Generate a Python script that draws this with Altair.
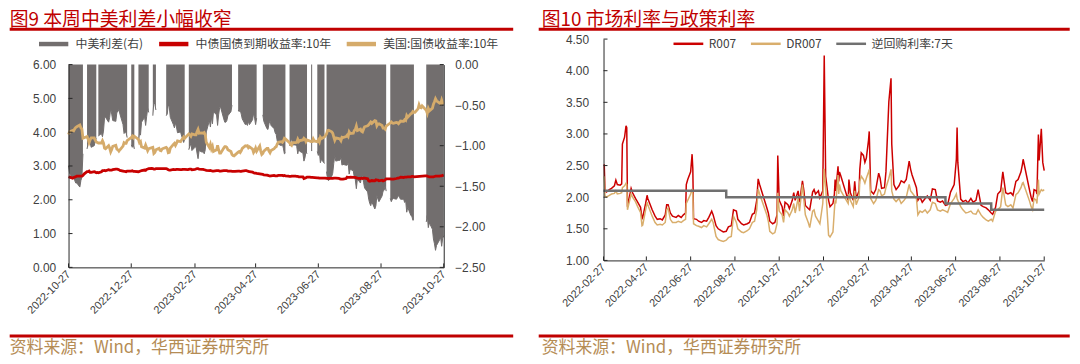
import altair as alt
import pandas as pd

CJK = "Noto Sans CJK SC"
NUM = "Liberation Sans"
AXIS_C = "#262626"
LABEL_C = "#404040"
TITLE_C = "#C00000"
SOURCE_C = "#B58C55"

# ---------------- Figure 9 data ----------------
left_title = "图9 本周中美利差小幅收窄"
right_title = "图10 市场利率与政策利率"
source_text = "资料来源：Wind，华西证券研究所"

left_series = ["中美利差(右)", "中债国债到期收益率:10年", "美国:国债收益率:10年"]
left_colors = ["#726E6E", "#C80000", "#D5AB6B"]

left_dates = [
    "2022-10-27", "2022-10-28", "2022-10-31",
    "2022-11-01", "2022-11-02", "2022-11-03", "2022-11-04", "2022-11-07", "2022-11-08", "2022-11-09", "2022-11-10",
    "2022-11-11", "2022-11-14", "2022-11-15", "2022-11-16", "2022-11-17", "2022-11-18", "2022-11-21", "2022-11-22",
    "2022-11-23", "2022-11-24", "2022-11-25", "2022-11-28", "2022-11-29", "2022-11-30",
    "2022-12-01", "2022-12-02", "2022-12-05", "2022-12-06", "2022-12-07", "2022-12-08", "2022-12-09", "2022-12-12",
    "2022-12-13", "2022-12-14", "2022-12-15", "2022-12-16", "2022-12-19", "2022-12-20", "2022-12-21", "2022-12-22",
    "2022-12-23", "2022-12-26", "2022-12-27", "2022-12-28", "2022-12-29", "2022-12-30",
    "2023-01-02", "2023-01-03", "2023-01-04", "2023-01-05", "2023-01-06", "2023-01-09", "2023-01-10", "2023-01-11",
    "2023-01-12", "2023-01-13", "2023-01-16", "2023-01-17", "2023-01-18", "2023-01-19", "2023-01-20", "2023-01-23",
    "2023-01-24", "2023-01-25", "2023-01-26", "2023-01-27", "2023-01-30", "2023-01-31",
    "2023-02-01", "2023-02-02", "2023-02-03", "2023-02-06", "2023-02-07", "2023-02-08", "2023-02-09", "2023-02-10",
    "2023-02-13", "2023-02-14", "2023-02-15", "2023-02-16", "2023-02-17", "2023-02-20", "2023-02-21", "2023-02-22",
    "2023-02-23", "2023-02-24", "2023-02-27", "2023-02-28",
    "2023-03-01", "2023-03-02", "2023-03-03", "2023-03-06", "2023-03-07", "2023-03-08", "2023-03-09", "2023-03-10",
    "2023-03-13", "2023-03-14", "2023-03-15", "2023-03-16", "2023-03-17", "2023-03-20", "2023-03-21", "2023-03-22",
    "2023-03-23", "2023-03-24", "2023-03-27", "2023-03-28", "2023-03-29", "2023-03-30", "2023-03-31",
    "2023-04-03", "2023-04-04", "2023-04-05", "2023-04-06", "2023-04-07", "2023-04-10", "2023-04-11", "2023-04-12",
    "2023-04-13", "2023-04-14", "2023-04-17", "2023-04-18", "2023-04-19", "2023-04-20", "2023-04-21", "2023-04-24",
    "2023-04-25", "2023-04-26", "2023-04-27", "2023-04-28",
    "2023-05-01", "2023-05-02", "2023-05-03", "2023-05-04", "2023-05-05", "2023-05-08", "2023-05-09", "2023-05-10",
    "2023-05-11", "2023-05-12", "2023-05-15", "2023-05-16", "2023-05-17", "2023-05-18", "2023-05-19", "2023-05-22",
    "2023-05-23", "2023-05-24", "2023-05-25", "2023-05-26", "2023-05-29", "2023-05-30", "2023-05-31",
    "2023-06-01", "2023-06-02", "2023-06-05", "2023-06-06", "2023-06-07", "2023-06-08", "2023-06-09", "2023-06-12",
    "2023-06-13", "2023-06-14", "2023-06-15", "2023-06-16", "2023-06-19", "2023-06-20", "2023-06-21", "2023-06-22",
    "2023-06-23", "2023-06-26", "2023-06-27", "2023-06-28", "2023-06-29", "2023-06-30",
    "2023-07-03", "2023-07-04", "2023-07-05", "2023-07-06", "2023-07-07", "2023-07-10", "2023-07-11", "2023-07-12",
    "2023-07-13", "2023-07-14", "2023-07-17", "2023-07-18", "2023-07-19", "2023-07-20", "2023-07-21", "2023-07-24",
    "2023-07-25", "2023-07-26", "2023-07-27", "2023-07-28", "2023-07-31",
    "2023-08-01", "2023-08-02", "2023-08-03", "2023-08-04", "2023-08-07", "2023-08-08", "2023-08-09", "2023-08-10",
    "2023-08-11", "2023-08-14", "2023-08-15", "2023-08-16", "2023-08-17", "2023-08-18", "2023-08-21", "2023-08-22",
    "2023-08-23", "2023-08-24", "2023-08-25", "2023-08-28", "2023-08-29", "2023-08-30", "2023-08-31",
    "2023-09-01", "2023-09-04", "2023-09-05", "2023-09-06", "2023-09-07", "2023-09-08", "2023-09-11", "2023-09-12",
    "2023-09-13", "2023-09-14", "2023-09-15", "2023-09-18", "2023-09-19", "2023-09-20", "2023-09-21", "2023-09-22",
    "2023-09-25", "2023-09-26", "2023-09-27", "2023-09-28", "2023-09-29",
    "2023-10-02", "2023-10-03", "2023-10-04", "2023-10-05", "2023-10-06", "2023-10-09", "2023-10-10", "2023-10-11",
    "2023-10-12", "2023-10-13", "2023-10-16", "2023-10-17", "2023-10-18", "2023-10-19", "2023-10-20", "2023-10-23",
    "2023-10-24", "2023-10-25", "2023-10-26", "2023-10-27",
]

cn_10y = [
    2.68, 2.67, 2.64,
    2.66, 2.67, 2.68, 2.70, 2.70, 2.70, 2.70, 2.72, 2.76, 2.83, 2.83, 2.85, 2.81, 2.81, 2.83, 2.82, 2.80, 2.81, 2.80,
    2.83, 2.86, 2.86,
    2.87, 2.86, 2.89, 2.88, 2.88, 2.88, 2.89, 2.91, 2.91, 2.90, 2.89, 2.87, 2.85, 2.84, 2.84, 2.83, 2.85, 2.85, 2.85,
    2.86, 2.84, 2.84,
    None, 2.83, 2.84, 2.85, 2.86, 2.88, 2.87, 2.90, 2.91, 2.92, 2.93, 2.92, 2.91, 2.91, 2.92, None, None, None, None,
    None, 2.92, 2.91,
    2.89, 2.88, 2.88, 2.90, 2.89, 2.89, 2.90, 2.90, 2.89, 2.89, 2.90, 2.90, 2.90, 2.89, 2.90, 2.91, 2.91, 2.89, 2.90,
    2.91,
    2.92, 2.92, 2.91, 2.90, 2.90, 2.89, 2.88, 2.87, 2.86, 2.87, 2.86, 2.85, 2.85, 2.86, 2.86, 2.86, 2.85, 2.85, 2.86,
    2.86, 2.86, 2.86, 2.85,
    2.85, 2.84, None, 2.84, 2.84, 2.85, 2.85, 2.84, 2.84, 2.85, 2.86, 2.86, 2.85, 2.84, 2.83, 2.82, 2.80, 2.79, 2.79,
    2.78,
    None, None, None, 2.75, 2.74, 2.73, 2.72, 2.71, 2.70, 2.71, 2.72, 2.71, 2.71, 2.71, 2.72, 2.72, 2.72, 2.71, 2.72,
    2.71, 2.70, 2.69, 2.69,
    2.70, 2.70, 2.70, 2.69, 2.69, 2.68, 2.68, 2.68, 2.63, 2.64, 2.65, 2.67, 2.67, 2.66, 2.66, None, None, 2.65, 2.65,
    2.64, 2.64, 2.64,
    2.64, 2.64, 2.63, 2.63, 2.63, 2.63, 2.63, 2.64, 2.64, 2.64, 2.63, 2.62, 2.61, 2.61, 2.61, 2.63, 2.67, 2.66, 2.66,
    2.67, 2.66,
    2.66, 2.66, 2.65, 2.64, 2.63, 2.64, 2.63, 2.64, 2.64, 2.62, 2.56, 2.55, 2.56, 2.57, 2.56, 2.59, 2.58, 2.58, 2.56,
    2.58, 2.56, 2.57, 2.59,
    2.62, 2.62, 2.62, 2.61, 2.61, 2.61, 2.63, 2.64, 2.64, 2.65, 2.67, 2.66, 2.67, 2.67, 2.67, 2.68, 2.68, 2.69, 2.69,
    2.68, None,
    None, None, None, None, None, 2.71, 2.71, 2.70, 2.69, 2.68, 2.68, 2.68, 2.69, 2.70, 2.70, 2.70, 2.71, 2.71, 2.72,
    2.73,
]

us_10y = [
    3.93, 4.01, 4.05,
    4.04, 4.10, 4.14, 4.16, 4.21, 4.13, 4.09, 3.82, None, 3.87, 3.80, 3.69, 3.77, 3.83, 3.83, 3.76, 3.71, None, 3.68,
    3.68, 3.75, 3.68,
    3.53, 3.51, 3.60, 3.53, 3.42, 3.49, 3.58, 3.61, 3.50, 3.48, 3.44, 3.48, 3.59, 3.69, 3.67, 3.67, 3.75, None, 3.84,
    3.88, 3.83, 3.88,
    None, 3.79, 3.69, 3.72, 3.57, 3.53, 3.62, 3.54, 3.45, 3.51, None, 3.55, 3.37, 3.40, 3.48, 3.52, 3.46, 3.45, 3.50,
    3.52, 3.55, 3.52,
    3.39, 3.40, 3.53, 3.64, 3.67, 3.61, 3.67, 3.74, 3.72, 3.77, 3.81, 3.86, 3.82, None, 3.95, 3.92, 3.88, 3.95, 3.92,
    3.92,
    4.01, 4.08, 3.97, 3.98, 3.97, 3.99, 3.93, 3.70, 3.55, 3.64, 3.51, 3.58, 3.43, 3.48, 3.61, 3.48, 3.38, 3.38, 3.53,
    3.57, 3.57, 3.55, 3.48,
    3.43, 3.34, 3.31, 3.30, None, 3.41, 3.43, 3.40, 3.45, 3.52, 3.60, 3.59, 3.60, 3.54, 3.57, 3.50, 3.40, 3.45, 3.53,
    3.44,
    3.59, 3.44, 3.34, 3.37, 3.44, 3.52, 3.52, 3.44, 3.39, 3.46, 3.51, 3.55, 3.57, 3.65, 3.70, 3.72, 3.70, 3.74, 3.82,
    3.80, None, 3.69, 3.64,
    3.61, 3.69, 3.69, 3.70, 3.79, 3.72, 3.75, 3.77, 3.82, 3.79, 3.72, 3.77, None, 3.72, 3.72, 3.80, 3.74, 3.72, 3.77,
    3.71, 3.85, 3.81,
    3.86, None, 3.95, 4.05, 4.06, 4.01, 3.97, 3.86, 3.76, 3.83, 3.81, 3.80, 3.75, 3.85, 3.84, 3.87, 3.91, 3.87, 4.01,
    3.96, 3.97,
    4.05, 4.08, 4.18, 4.05, 4.09, 4.03, 4.01, 4.09, 4.16, 4.19, 4.22, 4.26, 4.30, 4.26, 4.34, 4.33, 4.19, 4.24, 4.25,
    4.20, 4.12, 4.12, 4.09,
    4.18, None, 4.27, 4.30, 4.27, 4.26, 4.29, 4.28, 4.25, 4.29, 4.33, 4.32, 4.37, 4.35, 4.49, 4.44, 4.54, 4.56, 4.61,
    4.59, 4.59,
    4.69, 4.81, 4.73, 4.72, 4.78, None, 4.65, 4.56, 4.70, 4.63, 4.71, 4.83, 4.90, 4.99, 4.93, 4.86, 4.84, 4.95, 4.86,
    4.84,
]

left_ticks = ["2022-10-27", "2022-12-27", "2023-02-27", "2023-04-27", "2023-06-27", "2023-08-27", "2023-10-27"]
left_y_ticks = [0, 1, 2, 3, 4, 5, 6]
spread_ticks = [0, -0.5, -1.0, -1.5, -2.0, -2.5]

# ---------------- Figure 10 data ----------------
right_series = ["R007", "DR007", "逆回购利率:7天"]
right_colors = ["#CC0000", "#D9AE6C", "#707070"]

right_dates = [
    "2022-02-28", "2022-03-01", "2022-03-03", "2022-03-07", "2022-03-10", "2022-03-14", "2022-03-16", "2022-03-18",
    "2022-03-22", "2022-03-24", "2022-03-25", "2022-03-28", "2022-03-30", "2022-03-31",
    "2022-04-01", "2022-04-06", "2022-04-08", "2022-04-12", "2022-04-15", "2022-04-19", "2022-04-21", "2022-04-22",
    "2022-04-26", "2022-04-28", "2022-04-29",
    "2022-05-05", "2022-05-09", "2022-05-12", "2022-05-16", "2022-05-19", "2022-05-23", "2022-05-25", "2022-05-27",
    "2022-05-30",
    "2022-06-02", "2022-06-07", "2022-06-10", "2022-06-14", "2022-06-17", "2022-06-20", "2022-06-21", "2022-06-23",
    "2022-06-27", "2022-06-29", "2022-06-30",
    "2022-07-01", "2022-07-05", "2022-07-08", "2022-07-12", "2022-07-15", "2022-07-19", "2022-07-22", "2022-07-26",
    "2022-07-28",
    "2022-08-01", "2022-08-04", "2022-08-08", "2022-08-11", "2022-08-15", "2022-08-18", "2022-08-22", "2022-08-25",
    "2022-08-29", "2022-08-31",
    "2022-09-05", "2022-09-08", "2022-09-13", "2022-09-16", "2022-09-20", "2022-09-23", "2022-09-26", "2022-09-28",
    "2022-09-30",
    "2022-10-10", "2022-10-12", "2022-10-14", "2022-10-18", "2022-10-21", "2022-10-24", "2022-10-25", "2022-10-27",
    "2022-10-31",
    "2022-11-02", "2022-11-04", "2022-11-08", "2022-11-10", "2022-11-14", "2022-11-16", "2022-11-18", "2022-11-22",
    "2022-11-24", "2022-11-28", "2022-11-30",
    "2022-12-02", "2022-12-06", "2022-12-08", "2022-12-12", "2022-12-14", "2022-12-16", "2022-12-20", "2022-12-22",
    "2022-12-26", "2022-12-28", "2022-12-30",
    "2023-01-03", "2023-01-05", "2023-01-09", "2023-01-11", "2023-01-12", "2023-01-13", "2023-01-16", "2023-01-17",
    "2023-01-18", "2023-01-20", "2023-01-30", "2023-01-31",
    "2023-02-02", "2023-02-06", "2023-02-08", "2023-02-10", "2023-02-14", "2023-02-15", "2023-02-17", "2023-02-20",
    "2023-02-22", "2023-02-24", "2023-02-27", "2023-02-28",
    "2023-03-02", "2023-03-06", "2023-03-09", "2023-03-13", "2023-03-15", "2023-03-17", "2023-03-21", "2023-03-23",
    "2023-03-27", "2023-03-30", "2023-03-31",
    "2023-04-03", "2023-04-06", "2023-04-10", "2023-04-13", "2023-04-17", "2023-04-20", "2023-04-24", "2023-04-26",
    "2023-04-28",
    "2023-05-04", "2023-05-06", "2023-05-09", "2023-05-12", "2023-05-16", "2023-05-19", "2023-05-23", "2023-05-26",
    "2023-05-30",
    "2023-06-02", "2023-06-06", "2023-06-09", "2023-06-13", "2023-06-16", "2023-06-20", "2023-06-25", "2023-06-28",
    "2023-06-29", "2023-06-30",
    "2023-07-04", "2023-07-07", "2023-07-11", "2023-07-14", "2023-07-18", "2023-07-21", "2023-07-25", "2023-07-28",
    "2023-08-01", "2023-08-04", "2023-08-08", "2023-08-11", "2023-08-15", "2023-08-17", "2023-08-21", "2023-08-24",
    "2023-08-28", "2023-08-31",
    "2023-09-04", "2023-09-07", "2023-09-11", "2023-09-14", "2023-09-18", "2023-09-21", "2023-09-25", "2023-09-27",
    "2023-09-28",
    "2023-10-07", "2023-10-09", "2023-10-11", "2023-10-13", "2023-10-16", "2023-10-17", "2023-10-19", "2023-10-20",
    "2023-10-23", "2023-10-25", "2023-10-27",
]

r007 = [
    2.52, 2.10, 2.08, 2.12, 2.14, 2.18, 2.27, 2.20, 2.19, 2.21, 2.84, 2.95, 3.13, 3.10,
    1.85, 2.14, 2.07, 1.98, 1.92, 1.84, 1.66, 1.68, 1.90, 2.03, 1.98,
    1.80, 1.70, 1.65, 1.66, 1.64, 1.72, 1.88, 1.88, 1.75,
    1.70, 1.68, 1.71, 1.68, 1.72, 1.75, 2.20, 2.28, 2.40, 2.68, 2.45,
    1.66, 1.65, 1.62, 1.60, 1.63, 1.62, 1.68, 1.78, 1.72,
    1.55, 1.50, 1.47, 1.45, 1.46, 1.53, 1.55, 1.80, 1.78, 1.65,
    1.58, 1.56, 1.58, 1.60, 1.73, 1.75, 1.95, 2.29, 2.20,
    1.83, 1.75, 1.62, 1.58, 1.60, 1.72, 2.66, 1.95, 1.85,
    1.70, 1.92, 1.88, 1.82, 1.95, 2.07, 1.95, 2.10, 1.92, 2.26, 2.10,
    1.87, 1.82, 1.80, 2.08, 2.12, 2.05, 2.10, 1.99, 2.10, 4.24, 2.33,
    1.95, 1.85, 1.90, 2.05, 2.28, 2.10, 2.49, 2.25, 2.40, 2.33, 1.95, 2.28,
    2.07, 1.95, 2.25, 1.98, 2.10, 2.44, 2.70, 2.66, 2.55, 2.62, 2.90, 3.04,
    2.10, 2.05, 2.12, 2.38, 2.30, 2.14, 2.15, 2.40, 3.51, 3.88, 2.84,
    2.20, 2.12, 2.18, 2.26, 2.23, 2.28, 2.57, 2.44, 2.35,
    2.15, 1.95, 2.00, 1.92, 1.98, 2.02, 1.95, 2.13, 2.12,
    1.94, 1.92, 1.94, 1.87, 1.88, 2.08, 2.20, 2.60, 3.10, 2.55,
    1.97, 1.93, 1.95, 1.91, 1.98, 1.92, 1.95, 2.12,
    1.87, 1.85, 1.83, 1.80, 1.75, 1.73, 1.84, 2.05, 2.10, 2.40,
    2.07, 2.05, 2.07, 2.03, 2.25, 2.28, 2.40, 2.52, 2.60,
    2.10, 2.00, 1.93, 2.12, 2.10, 2.05, 2.99, 2.58, 3.08, 2.55, 2.42,
]

dr007 = [
    2.33, 2.02, 2.00, 2.03, 2.05, 2.06, 2.10, 2.05, 2.06, 2.07, 2.15, 2.18, 2.22, 2.20,
    1.80, 2.05, 2.00, 1.93, 1.85, 1.76, 1.55, 1.56, 1.80, 1.92, 1.88,
    1.70, 1.60, 1.56, 1.57, 1.56, 1.60, 1.80, 1.83, 1.65,
    1.60, 1.60, 1.62, 1.60, 1.63, 1.65, 1.90, 1.95, 2.05, 2.13, 2.05,
    1.58, 1.55, 1.54, 1.52, 1.55, 1.53, 1.58, 1.65, 1.60,
    1.38, 1.33, 1.31, 1.30, 1.32, 1.36, 1.38, 1.70, 1.60, 1.50,
    1.45, 1.44, 1.47, 1.50, 1.60, 1.62, 1.80, 2.13, 2.05,
    1.72, 1.62, 1.46, 1.42, 1.44, 1.58, 2.07, 1.78, 1.72,
    1.60, 1.80, 1.75, 1.70, 1.80, 1.90, 1.75, 1.98, 1.78, 2.20, 1.95,
    1.72, 1.60, 1.52, 1.78, 1.80, 1.70, 1.62, 1.58, 1.90, 2.45, 2.15,
    1.40, 1.37, 1.45, 1.80, 1.95, 1.90, 2.35, 2.05, 2.20, 2.10, 1.90, 2.05,
    1.95, 1.85, 2.10, 1.88, 2.00, 2.25, 2.33, 2.28, 2.22, 2.30, 2.40, 2.44,
    1.98, 1.90, 1.95, 2.12, 2.10, 2.02, 2.05, 2.15, 2.30, 2.44, 2.10,
    1.97, 1.93, 1.98, 1.90, 1.95, 2.00, 2.20, 2.10, 2.07,
    1.98, 1.72, 1.78, 1.76, 1.80, 1.75, 1.80, 1.92, 1.90,
    1.80, 1.78, 1.80, 1.78, 1.76, 1.90, 1.98, 2.05, 1.98, 1.95,
    1.85, 1.80, 1.75, 1.76, 1.78, 1.74, 1.73, 1.80,
    1.72, 1.68, 1.64, 1.62, 1.65, 1.62, 1.78, 1.80, 1.85, 2.15,
    1.88, 1.85, 1.88, 1.83, 2.04, 2.07, 2.15, 2.22, 2.23,
    1.93, 1.85, 1.80, 1.98, 1.95, 1.90, 2.28, 2.05, 2.12, 2.10, 2.12,
]

repo_dates = ["2022-02-27", "2022-08-15", "2023-06-13", "2023-08-15", "2023-10-27"]
repo_rate = [2.10, 2.00, 1.90, 1.80, 1.80]

right_ticks = ["2022-02-27", "2022-04-27", "2022-06-27", "2022-08-27", "2022-10-27", "2022-12-27",
               "2023-02-27", "2023-04-27", "2023-06-27", "2023-08-27", "2023-10-27"]
rate_ticks = [1.0, 1.5, 2.0, 2.5, 3.0, 3.5, 4.0, 4.5]

# ---------------- helpers ----------------
# both panels share the same view top; the left plot rectangle starts lower via its y range
WL, HL = 378, 230
PLOT_TOP_L = 25.7
WR, HR = 444, 223


def ms(s):
    return int(pd.Timestamp(s).value // 1_000_000)


def num_axis(orient, values, pad):
    return alt.Axis(orient=orient, values=values, format=".2f", tickSize=0, labelPadding=pad,
                    domainColor=AXIS_C, domainWidth=1, grid=False, title=None, zindex=1,
                    labelFont=NUM, labelFontSize=12, labelColor=LABEL_C)


def date_axis(ticks):
    return alt.Axis(values=[ms(t) for t in ticks], labelExpr="utcFormat(datum.value, '%Y-%m-%d')",
                    labelAngle=315, labelAlign="right", labelBaseline="middle", labelPadding=5,
                    tickSize=0, labelFlush=False, labelOverlap=False, grid=False, title=None, zindex=1,
                    domainColor=AXIS_C, domainWidth=1, labelFont=NUM, labelFontSize=11, labelColor=LABEL_C)


def decorations(title, x_left, x_text, x_right, y_top, y_rule_top, y_rule_bottom, y_source):
    # invisible spacer fixes the top of the panel so the title glyphs are not clipped
    spacer = alt.Chart(pd.DataFrame({"k": [0]})).mark_rule(strokeWidth=1, opacity=0).encode(
        x=alt.value(x_left), x2=alt.value(x_left + 2), y=alt.value(y_top + 0.5))
    t = alt.Chart(pd.DataFrame({"t": [title]})).mark_text(
        align="left", baseline="top", font=CJK, fontSize=19, color=TITLE_C
    ).encode(text="t:N", x=alt.value(x_text), y=alt.value(y_top + 2))
    r1 = alt.Chart(pd.DataFrame({"k": [0]})).mark_rule(color=TITLE_C, strokeWidth=3).encode(
        x=alt.value(x_left), x2=alt.value(x_right), y=alt.value(y_rule_top))
    r2 = alt.Chart(pd.DataFrame({"k": [0]})).mark_rule(color=TITLE_C, strokeWidth=3).encode(
        x=alt.value(x_left), x2=alt.value(x_right), y=alt.value(y_rule_bottom))
    s = alt.Chart(pd.DataFrame({"t": [source_text]})).mark_text(
        align="left", baseline="middle", font=CJK, fontSize=17, color=SOURCE_C
    ).encode(text="t:N", x=alt.value(x_text), y=alt.value(y_source))
    return [spacer, t, r1, r2, s]


# ---------------- left panel ----------------
dfL = pd.DataFrame({"date": left_dates, "cn": cn_10y, "us": us_10y})
longL = pd.concat([
    pd.DataFrame({"date": left_dates, "value": cn_10y, "series": left_series[1]}),
    pd.DataFrame({"date": left_dates, "value": us_10y, "series": left_series[2]}),
]).dropna(subset=["value"])

xL = alt.X("date:T", scale=alt.Scale(type="utc", domain=[ms(left_ticks[0]), ms(left_ticks[-1])]),
           axis=date_axis(left_ticks))
ySpreadScale = alt.Scale(domain=[-2.5, 0], nice=False, zero=False, range=[HL, PLOT_TOP_L])
yYieldScale = alt.Scale(domain=[0, 6], nice=False, zero=False, range=[HL, PLOT_TOP_L])
colorL = alt.Scale(domain=left_series, range=left_colors)
legendL = alt.Legend(title=None, orient="none", legendX=-32, legendY=-12, direction="horizontal",
                     symbolType="stroke", symbolSize=870, symbolStrokeWidth=4.5, labelFont=CJK,
                     labelFontSize=12, labelColor=LABEL_C, columnPadding=6, labelOffset=5, padding=0)
SPREAD = "isValid(datum.cn) && isValid(datum.us) ? datum.cn - datum.us : null"
right_axis_L = num_axis("right", spread_ticks, 11)

spread_area = alt.Chart(dfL).transform_calculate(spread=SPREAD).mark_area(
    color=left_colors[0], invalid="break-paths-filter-domains"
).encode(x=xL, y=alt.Y("spread:Q", scale=ySpreadScale, axis=right_axis_L), y2=alt.datum(0))

spread_edge = alt.Chart(dfL).transform_calculate(
    spread=SPREAD, series="'" + left_series[0] + "'"
).mark_line(strokeWidth=1, invalid="break-paths-filter-domains").encode(
    x=xL, y=alt.Y("spread:Q", scale=ySpreadScale, axis=right_axis_L),
    color=alt.Color("series:N", scale=colorL, legend=legendL))

yield_lines = alt.Chart(longL).mark_line(strokeWidth=2.8).encode(
    x=xL, y=alt.Y("value:Q", scale=yYieldScale, axis=num_axis("left", left_y_ticks, 13)),
    color=alt.Color("series:N", scale=colorL, legend=legendL))

tick_l = alt.Chart(pd.DataFrame({"v": left_y_ticks})).mark_rule(color=AXIS_C).encode(
    y=alt.Y("v:Q", scale=yYieldScale, axis=None), x=alt.value(0), x2=alt.value(4))
tick_r = alt.Chart(pd.DataFrame({"v": spread_ticks})).mark_rule(color=AXIS_C).encode(
    y=alt.Y("v:Q", scale=ySpreadScale, axis=None), x=alt.value(WL - 4), x2=alt.value(WL))
tick_b = alt.Chart(pd.DataFrame({"date": left_ticks})).mark_rule(color=AXIS_C).encode(
    x=xL, y=alt.value(HL - 4), y2=alt.value(HL))

decoL = decorations(left_title, -59.3, -59.3, 448, -30.3, -9.8, 299.2, 311.7)

left = alt.layer(
    alt.layer(spread_area, spread_edge), yield_lines, tick_l, tick_r, tick_b, *decoL
).resolve_scale(y="independent").properties(width=WL, height=HL)

# ---------------- right panel ----------------
dfR = pd.concat([
    pd.DataFrame({"date": right_dates, "value": r007, "series": right_series[0]}),
    pd.DataFrame({"date": right_dates, "value": dr007, "series": right_series[1]}),
])
dfRepo = pd.DataFrame({"date": repo_dates, "value": repo_rate, "series": right_series[2]})

xR = alt.X("date:T", scale=alt.Scale(type="utc", domain=[ms(right_ticks[0]), ms(right_ticks[-1])]),
           axis=date_axis(right_ticks))
yRateScale = alt.Scale(domain=[1, 4.5], nice=False, zero=False)
yRate = alt.Y("value:Q", scale=yRateScale, axis=num_axis("left", rate_ticks, 15))
colorR = alt.Scale(domain=right_series, range=right_colors)
legendR = alt.Legend(title=None, orient="none", legendX=69, legendY=-12, direction="horizontal",
                     symbolType="stroke", symbolSize=900, symbolStrokeWidth=2.5, labelFont=CJK,
                     labelFontSize=12, labelColor=LABEL_C, columnPadding=9, labelOffset=4, padding=0)

r_line = alt.Chart(dfR).transform_filter(alt.datum.series == right_series[0]).mark_line(strokeWidth=1.5).encode(
    x=xR, y=yRate, color=alt.Color("series:N", scale=colorR, legend=legendR))
dr_line = alt.Chart(dfR).transform_filter(alt.datum.series == right_series[1]).mark_line(strokeWidth=1.5).encode(
    x=xR, y=yRate, color=alt.Color("series:N", scale=colorR, legend=legendR))
repo_line = alt.Chart(dfRepo).mark_line(strokeWidth=2.5, interpolate="step-after").encode(
    x=xR, y=yRate, color=alt.Color("series:N", scale=colorR, legend=legendR))

tick_rl = alt.Chart(pd.DataFrame({"value": rate_ticks})).mark_rule(color=AXIS_C).encode(
    y=yRate, x=alt.value(0), x2=alt.value(4))
tick_rb = alt.Chart(pd.DataFrame({"date": right_ticks})).mark_rule(color=AXIS_C).encode(
    x=xR, y=alt.value(HR - 4), y2=alt.value(HR))

decoR = decorations(right_title, -65.3, -62.3, 469.7, -30.3, -9.8, 299.2, 311.7)

right = alt.layer(r_line, dr_line, repo_line, tick_rl, tick_rb, *decoR).properties(width=WR, height=HR)

chart = alt.hconcat(left, right, spacing=22, padding=0).resolve_scale(
    color="independent").configure_view(strokeWidth=0)

chart.save("out.html", embed_options={"renderer": "svg", "actions": False})
